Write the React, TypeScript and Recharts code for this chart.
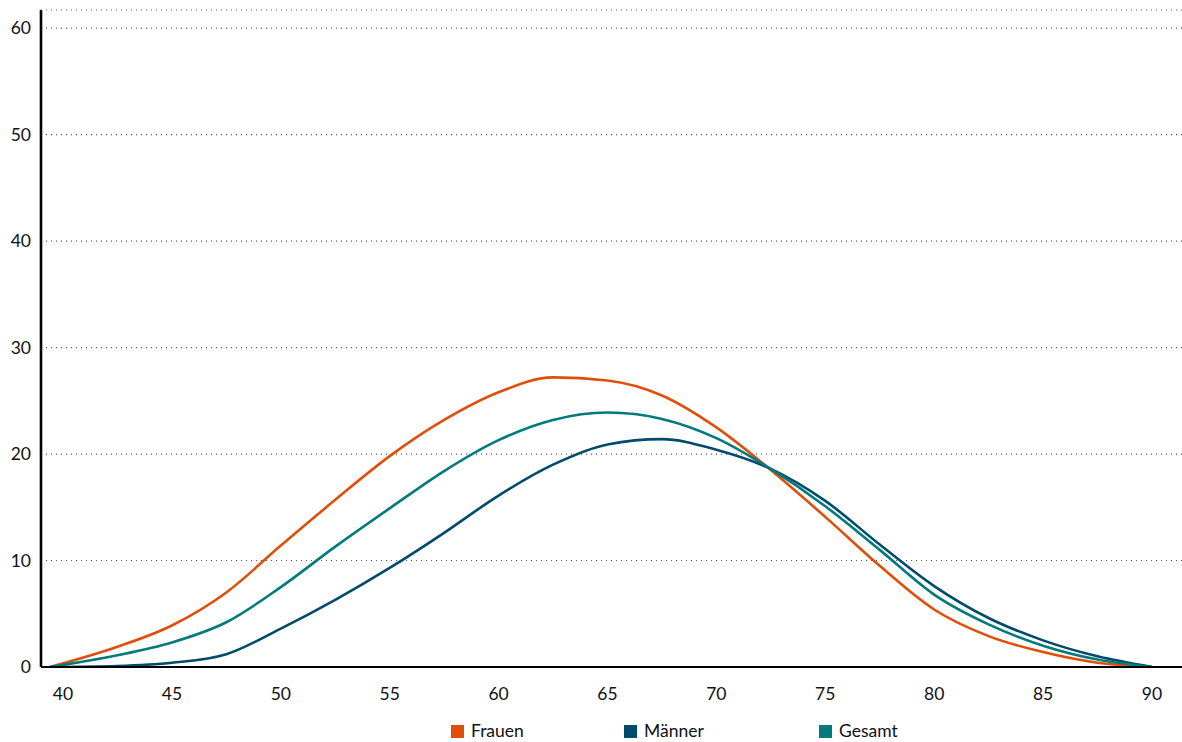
import React from "react";
import { LineChart, Line, XAxis, YAxis, CartesianGrid, Legend } from "recharts";

// Age (years) on the x axis
const ages = [39.4, 42.5, 45, 47.5, 50, 52.5, 55, 57.5, 60, 62.5, 65, 67.5, 70, 72.5, 75, 77.5, 80, 82.5, 85, 87.5, 90];

// Distribution per group (percent)
const frauen = [0, 1.9, 3.9, 7.0, 11.4, 15.7, 19.8, 23.2, 25.8, 27.2, 26.9, 25.5, 22.5, 18.5, 14.1, 9.5, 5.4, 2.9, 1.4, 0.4, 0];
const maenner = [0, 0.1, 0.4, 1.2, 3.6, 6.3, 9.3, 12.6, 16.1, 19.0, 20.9, 21.4, 20.4, 18.6, 15.6, 11.5, 7.6, 4.6, 2.5, 1.0, 0];
const gesamt = [0, 1.1, 2.3, 4.2, 7.5, 11.3, 14.9, 18.4, 21.3, 23.2, 23.9, 23.3, 21.5, 18.6, 15.1, 11.0, 6.8, 4.0, 2.0, 0.7, 0];

const xTicks = [40, 45, 50, 55, 60, 65, 70, 75, 80, 85, 90];
const yTicks = [0, 10, 20, 30, 40, 50, 60];

const series = [
  { key: "frauen", name: "Frauen", color: "#E04E0A" },
  { key: "maenner", name: "Männer", color: "#004A6B" },
  { key: "gesamt", name: "Gesamt", color: "#007A7B" },
];

const data = ages.map((age, i) => ({
  age,
  frauen: frauen[i],
  maenner: maenner[i],
  gesamt: gesamt[i],
}));

const FONT = "Lato, 'Open Sans', sans-serif";
const FONT_SIZE = 17.5;

// Legend entries with their horizontal placement
const legendLeft = [451, 624, 819];

const LegendContent = () => (
  <div style={{ position: "relative", width: 1182, height: 45, fontFamily: FONT, fontSize: FONT_SIZE, color: "#111" }}>
    {series.map((s, i) => (
      <React.Fragment key={s.key}>
        <div
          style={{
            position: "absolute",
            left: legendLeft[i],
            top: 28,
            width: 12.5,
            height: 12.5,
            background: s.color,
          }}
        />
        <span
          style={{
            position: "absolute",
            left: legendLeft[i] + 20,
            top: 25,
            lineHeight: "17px",
            whiteSpace: "nowrap",
          }}
        >
          {s.name}
        </span>
      </React.Fragment>
    ))}
  </div>
);

export default function App() {
  return (
    <div style={{ position: "absolute", left: 0, top: 0, width: 1182, height: 742, background: "#fff" }}>
      <LineChart width={1182} height={742} data={data} margin={{ top: 10, right: 0, bottom: 0, left: 0 }}>
        <CartesianGrid vertical={false} stroke="#555" strokeDasharray="1 4" strokeWidth={1.2} />
        <XAxis
          dataKey="age"
          type="number"
          domain={[38.99, 91.38]}
          ticks={xTicks}
          allowDataOverflow
          height={30}
          axisLine={{ stroke: "#000", strokeWidth: 2 }}
          tickLine={false}
          tickMargin={15}
          tick={{ fill: "#111", fontSize: FONT_SIZE, fontFamily: FONT }}
          interval={0}
        />
        <YAxis
          type="number"
          domain={[0, 61.7]}
          ticks={yTicks}
          allowDataOverflow
          width={41}
          axisLine={{ stroke: "#000", strokeWidth: 2.6 }}
          tickLine={false}
          tickMargin={4}
          tick={{ fill: "#111", fontSize: FONT_SIZE, fontFamily: FONT }}
          interval={0}
        />
        <Legend
          verticalAlign="bottom"
          content={LegendContent}
          wrapperStyle={{ left: 0, bottom: 0, width: 1182, height: 45 }}
        />
        {series.map((s) => (
          <Line
            key={s.key}
            type="monotone"
            dataKey={s.key}
            name={s.name}
            stroke={s.color}
            strokeWidth={2.6}
            dot={false}
            activeDot={false}
            isAnimationActive={false}
          />
        ))}
      </LineChart>
    </div>
  );
}
